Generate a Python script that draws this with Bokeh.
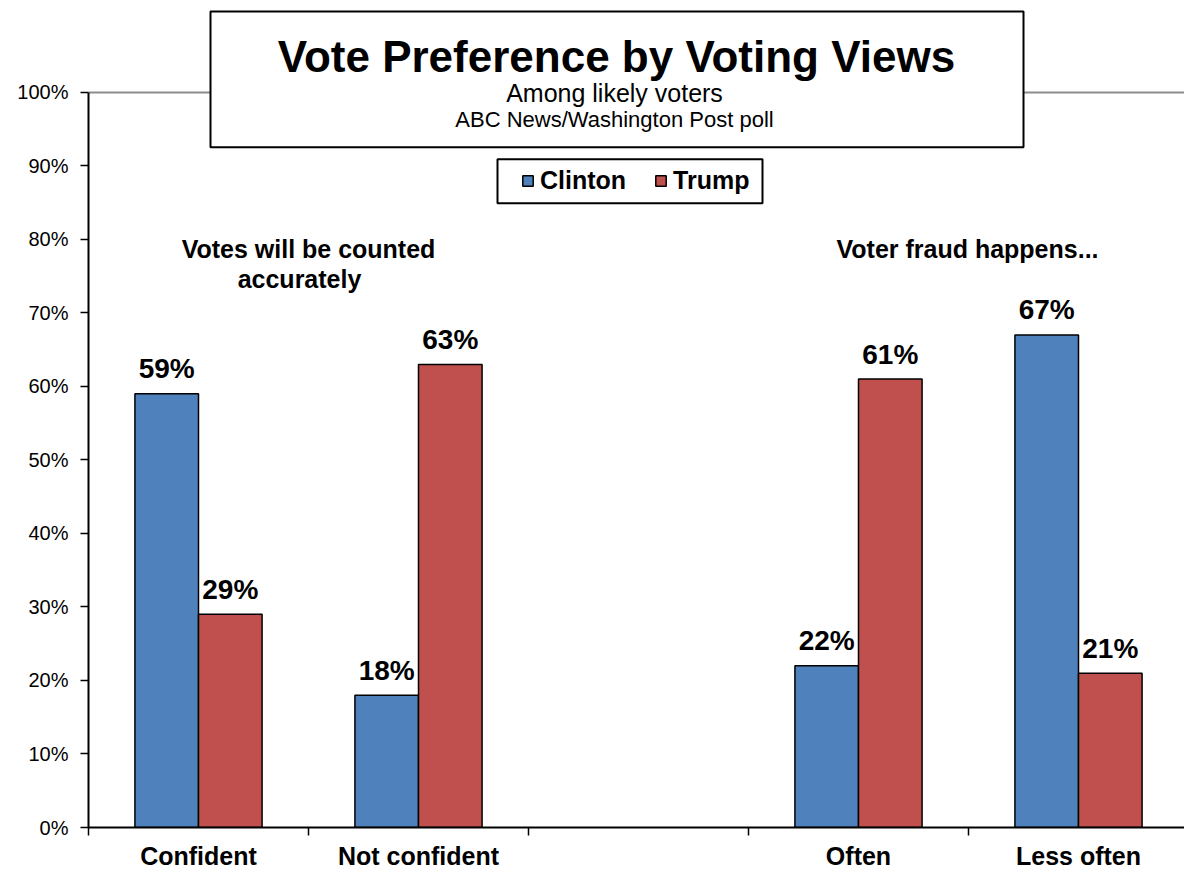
from bokeh.plotting import figure
from bokeh.models import Range1d, FixedTicker, Span, Legend, LegendItem, ColumnDataSource
from bokeh.core.properties import value
from bokeh.embed import file_html
from bokeh.resources import INLINE

# ---- data ----
categories = ["Confident", "Not confident", "", "Often", "Less often"]
clinton = [59, 18, None, 22, 67]
trump = [29, 63, None, 61, 21]
series = ["Clinton", "Trump"]
y_ticks = [0, 10, 20, 30, 40, 50, 60, 70, 80, 90, 100]

title_text = "Vote Preference by Voting Views"
subtitle_text = "Among likely voters"
source_text = "ABC News/Washington Post poll"
group1_text = ["Votes will be counted", "accurately"]
group2_text = "Voter fraud happens..."

BLUE = "#4F81BD"
RED = "#C0504D"
FONT = "Liberation Sans"

# ---- geometry (pixels) ----
W, H = 1184, 872
LEFT, BOTTOM_PX = 88, 828          # frame left edge, y pixel of 0%
SLOT = 220.0                        # pixel width of a category slot
PX_PER_PCT = 7.36

def dx(px):
    return (px - LEFT) / SLOT

def dy(py):
    return (BOTTOM_PX - py) / PX_PER_PCT

p = figure(width=W, height=H, title=None,
           x_range=Range1d(0, (W - LEFT) / SLOT),
           y_range=Range1d(0, BOTTOM_PX / PX_PER_PCT),
           min_border_left=LEFT, min_border_right=0, min_border_top=0,
           min_border_bottom=H - BOTTOM_PX,
           output_backend="svg", toolbar_location=None)
p.outline_line_color = None
p.xgrid.visible = False
p.ygrid.visible = False
p.background_fill_color = "white"
p.border_fill_color = "white"

# top grey line of plot area
p.add_layout(Span(location=100, dimension="width", line_color="#8C8C8C",
                  line_width=2, level="underlay"))

# ---- bars ----
bw = 0.289
idx = [i for i, c in enumerate(categories) if clinton[i] is not None]
centers = [i + 0.5 for i in idx]
src_c = ColumnDataSource(dict(x=[c - bw / 2 for c in centers],
                              top=[clinton[i] for i in idx],
                              lab=[f"{clinton[i]}%" for i in idx]))
src_t = ColumnDataSource(dict(x=[c + bw / 2 for c in centers],
                              top=[trump[i] for i in idx],
                              lab=[f"{trump[i]}%" for i in idx]))
r_c = p.vbar(x="x", top="top", width=bw, source=src_c, fill_color=BLUE,
             line_color="black", line_width=1.5)
r_t = p.vbar(x="x", top="top", width=bw, source=src_t, fill_color=RED,
             line_color="black", line_width=1.5)

for src in (src_c, src_t):
    p.text(x="x", y="top", text="lab", source=src, text_align="center",
           text_baseline="alphabetic", y_offset=-25,
           text_font=value(FONT), text_font_style="bold",
           text_font_size="28px", text_color="black")

# ---- axes ----
yax = p.yaxis[0]
yax.ticker = FixedTicker(ticks=y_ticks)
yax.major_label_overrides = {t: f"{t}%" for t in y_ticks}
yax.bounds = (0, 100)
yax.axis_line_color = "black"
yax.axis_line_width = 2
yax.major_tick_out = 8
yax.major_tick_in = 0
yax.major_tick_line_width = 1.5
yax.minor_tick_line_color = None
yax.major_label_standoff = 12
yax.major_label_text_font = FONT
yax.major_label_text_font_size = "20px"
yax.major_label_text_color = "black"

xax = p.xaxis[0]
label_pos = [i + 0.5 for i, c in enumerate(categories) if c]
xax.ticker = FixedTicker(ticks=label_pos,
                         minor_ticks=list(range(len(categories) + 1)))
xax.major_label_overrides = {i + 0.5: c for i, c in enumerate(categories) if c}
xax.axis_line_color = "black"
xax.axis_line_width = 2
xax.major_tick_out = 0
xax.major_tick_in = 0
xax.minor_tick_out = 8
xax.minor_tick_in = 0
xax.minor_tick_line_color = "black"
xax.minor_tick_line_width = 1.5
xax.major_label_standoff = 6
xax.major_label_text_font = FONT
xax.major_label_text_font_style = "bold"
xax.major_label_text_font_size = "25px"
xax.major_label_text_color = "black"

# ---- title box ----
p.quad(left=dx(210), right=dx(1023), bottom=dy(147), top=dy(11),
       fill_color="white", line_color="black", line_width=2)
p.text(x=[dx(616)], y=[dy(56)], text=[title_text], text_align="center",
       text_baseline="alphabetic", text_font=value(FONT),
       text_font_style="bold", text_font_size="44px", text_color="black")
p.text(x=[dx(614)], y=[dy(93)], text=[subtitle_text], text_align="center",
       text_baseline="alphabetic", text_font=value(FONT),
       text_font_size="25px", text_color="black")
p.text(x=[dx(614)], y=[dy(119)], text=[source_text], text_align="center",
       text_baseline="alphabetic", text_font=value(FONT),
       text_font_size="22px", text_color="black")

# ---- group annotations ----
p.text(x=[dx(308), dx(299)], y=[dy(249), dy(279)], text=group1_text,
       text_align="center", text_baseline="alphabetic",
       text_font=value(FONT), text_font_style="bold",
       text_font_size="25px", text_color="black")
p.text(x=[dx(967)], y=[dy(249)], text=[group2_text], text_align="center",
       text_baseline="alphabetic", text_font=value(FONT),
       text_font_style="bold", text_font_size="25px", text_color="black")

# ---- legend (box drawn separately) ----
p.quad(left=dx(497), right=dx(762), bottom=dy(203), top=dy(159),
       fill_color="white", line_color="black", line_width=2)
legend = Legend(items=[LegendItem(label=series[0], renderers=[r_c]),
                       LegendItem(label=series[1], renderers=[r_t])],
                orientation="horizontal", location=(521 - LEFT, BOTTOM_PX - 196),
                border_line_color=None, background_fill_alpha=0.0,
                padding=0, spacing=28, margin=0,
                glyph_width=13, glyph_height=13, label_standoff=6,
                label_text_font=FONT, label_text_font_style="bold",
                label_text_font_size="25px", label_text_color="black")
p.add_layout(legend)

open("out.html", "w").write(file_html(p, INLINE))
